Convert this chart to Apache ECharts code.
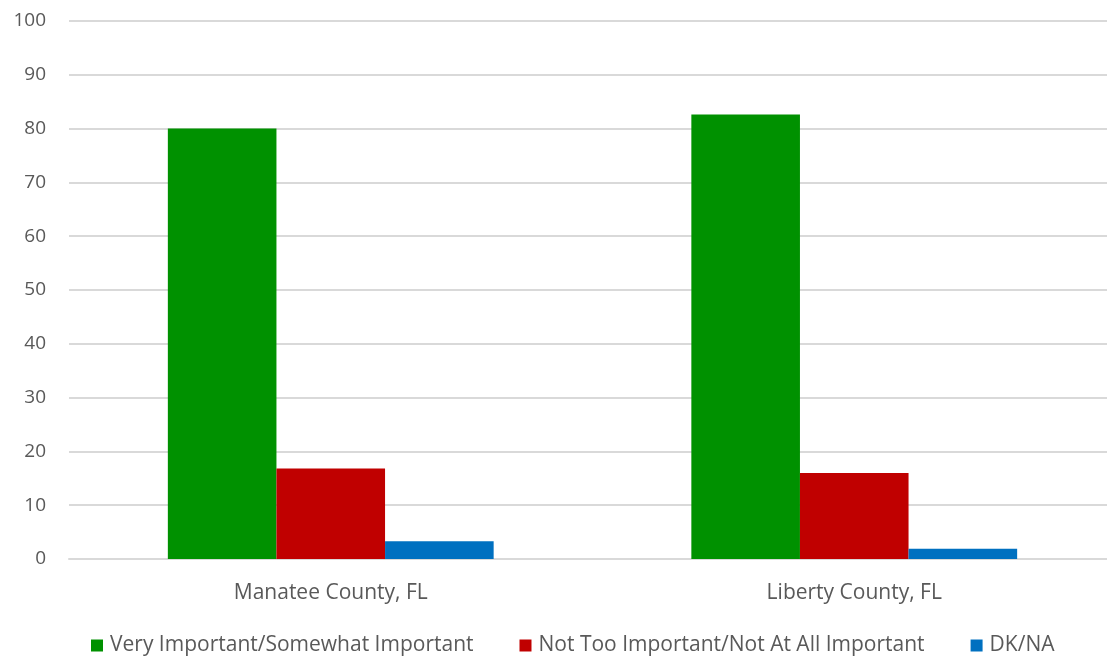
<!DOCTYPE html>
<html><head><meta charset="utf-8">
<script src="https://cdn.jsdelivr.net/npm/echarts@6/dist/echarts.min.js"></script>
<style>html,body{margin:0;padding:0;background:#fff;overflow:hidden;width:1107px;height:658px}#c{width:1116px;height:658px}</style>
</head><body><div id="c"></div>
<script>
const categories = ["Manatee County, FL", "Liberty County, FL"];
const seriesNames = ["Very Important/Somewhat Important", "Not Too Important/Not At All Important", "DK/NA"];
const veryImportant = [80, 82.6];
const notImportant = [16.8, 16.0];
const dkna = [3.3, 1.9];
const colors = ["#009100", "#C00000", "#0070C0"];

const chart = echarts.init(document.getElementById('c'), null, {renderer: 'canvas'});
const font = '"Open Sans", "Liberation Sans", sans-serif';
const values = [veryImportant, notImportant, dkna];
chart.setOption({
  animation: false,
  textStyle: {fontFamily: font},
  grid: {left: 69, right: 0, top: 21, bottom: 99},
  legend: {
    top: 630, left: 86,
    itemWidth: 12, itemHeight: 12, itemGap: 46,
    icon: 'rect',
    textStyle: {fontSize: 21, color: '#595959', fontFamily: font, padding: [0,0,0,2]},
    data: seriesNames
  },
  xAxis: {
    type: 'category', data: categories,
    axisLine: {lineStyle: {color: '#D9D9D9', width: 2}},
    axisTick: {show: false},
    axisLabel: {fontSize: 21, color: '#595959', margin: 24, fontFamily: font}
  },
  yAxis: {
    type: 'value', min: 0, max: 100, interval: 10,
    axisLine: {show: false}, axisTick: {show: false},
    splitLine: {lineStyle: {color: '#D9D9D9', width: 2}},
    axisLabel: {fontSize: 19, color: '#595959', margin: 23, fontFamily: font}
  },
  series: seriesNames.map((n, i) => ({
    name: n, type: 'bar', data: values[i],
    barWidth: 108.6, barGap: '0%',
    itemStyle: {color: colors[i]}
  }))
});
</script></body></html>
